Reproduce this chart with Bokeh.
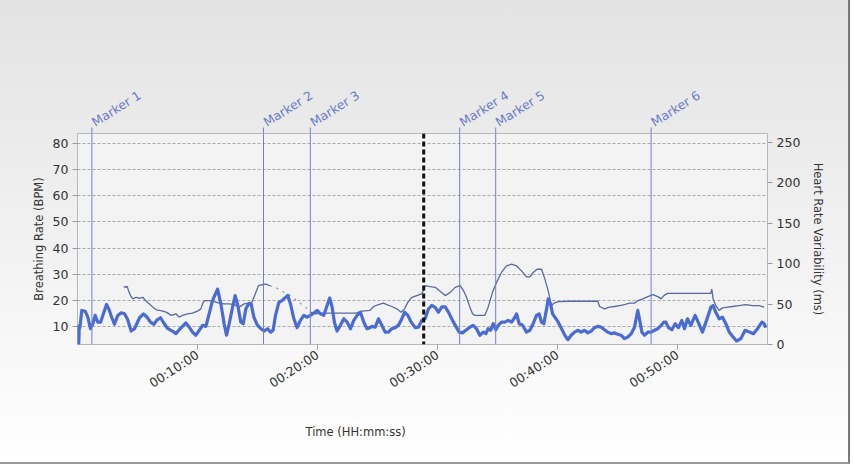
from bokeh.plotting import figure
from bokeh.layouts import column
from bokeh.models import (Range1d, LinearAxis, FixedTicker, Span, ColumnDataSource, Title)
from bokeh.core.properties import value
from bokeh.embed import file_html
from bokeh.resources import INLINE

# ---------------- data (time in minutes) ----------------
br_t = [0, 0.05, 0.1, 0.15, 0.2,
        0.36, 0.64, 0.86, 1.08, 1.28, 1.47, 1.69, 1.92, 2.11, 2.42,
        2.64, 2.86, 3.08, 3.36, 3.64, 3.92, 4.19, 4.47, 4.75, 5.17,
        5.5, 5.8, 6.08, 6.36, 6.64, 6.92, 7.19, 7.53, 7.94,
        8.2, 8.47, 8.75, 9.03, 9.31, 9.58, 9.86, 10.14, 10.42, 10.7,
        10.97, 11.25, 11.67, 11.95, 12.22, 12.42, 12.64, 12.92, 13.14, 13.36,
        13.61, 13.81, 14.03, 14.25, 14.47, 14.7, 15.0, 15.28, 15.56, 15.84,
        16.1,
        16.3, 16.5, 16.78, 17.05, 17.33, 17.52, 17.75, 18.03, 18.3, 18.58,
        18.86, 19.14, 19.41, 19.69, 19.97, 20.25, 20.52, 20.8, 21.02, 21.22,
        21.41, 21.63, 21.91, 22.19, 22.47, 22.75, 23.02, 23.3, 23.58, 23.86,
        24.13, 24.36,
        24.53, 24.81, 25.08, 25.36, 25.64, 25.92, 26.19, 26.47, 26.75, 26.97,
        27.25, 27.53, 27.81, 28.14, 28.42, 28.69, 28.97, 29.25, 29.53, 29.81,
        30.08, 30.36, 30.64, 30.92, 31.25, 31.53, 31.81, 32.08, 32.36,
        32.7, 32.97, 33.25, 33.53, 33.81, 34.03, 34.22, 34.42, 34.64, 34.86,
        35.06, 35.33, 35.61, 35.89, 36.17, 36.45, 36.59, 36.81, 37.09, 37.42,
        37.7, 37.97, 38.25, 38.47, 38.67, 38.86, 39.09, 39.22, 39.42, 39.59,
        39.78, 40.06, 40.34, 40.61,
        40.86, 41.14, 41.42, 41.69, 41.97, 42.25, 42.53, 42.8, 43.08, 43.36,
        43.64, 43.92, 44.19, 44.47, 44.75, 45.03, 45.3, 45.58, 45.86, 46.14,
        46.42, 46.58, 46.69, 46.83, 47.03, 47.25, 47.53, 47.8, 48.08, 48.36,
        48.64, 48.86,
        49.03, 49.25, 49.53, 49.81, 50.08, 50.36, 50.58, 50.83, 51.11, 51.47,
        51.75, 52.08, 52.42, 52.78, 52.97, 53.19, 53.47, 53.75, 54.03, 54.31,
        54.58, 54.92, 55.28, 55.64, 56.0, 56.33, 56.67, 57.03, 57.22, 57.36]

br_v = [3.1, 10.0, 3.1, 10.0, 9.5,
        16.1, 15.8, 13.5, 9.1, 11.0, 14.2, 11.6, 11.6, 14.2, 18.4,
        16.3, 13.3, 10.8, 14.2, 15.2, 14.8, 12.5, 8.2, 9.1, 13.3,
        14.8, 13.5, 11.6, 10.8, 12.5, 13.3, 11.3, 9.1, 8.1,
        7.2, 8.7, 10.0, 11.3, 9.7, 7.8, 6.6, 8.5, 10.4, 10.0,
        14.8, 19.9, 24.3, 18.6, 11.0, 6.6, 11.0, 17.3, 21.8, 18.0,
        11.6, 11.0, 16.7, 18.6, 18.6, 13.5, 10.4, 9.1, 8.2, 9.1,
        7.8,
        8.5, 14.2, 19.2, 19.9, 21.1, 21.8, 18.6, 12.9, 9.5, 12.3,
        14.2, 13.5, 14.2, 15.1, 16.1, 14.8, 14.2, 18.0, 20.9, 17.3,
        11.6, 8.2, 10.4, 12.9, 11.6, 9.1, 12.3, 14.2, 15.4, 11.6,
        9.1, 9.5,
        10.0, 9.7, 12.9, 10.4, 7.8, 7.8, 9.1, 9.5, 10.4, 12.3,
        15.4, 14.2, 11.6, 9.5, 9.7, 12.3, 12.9, 16.7, 18.0, 17.3,
        15.4, 17.5, 17.5, 15.4, 12.3, 10.0, 7.8, 7.5, 8.5,
        9.7, 10.4, 9.1, 6.6, 7.8, 7.2, 9.1, 8.5, 11.0, 8.7,
        10.4, 11.6, 11.6, 12.3, 11.6, 13.5, 14.8, 11.0, 10.4, 7.8,
        8.5, 11.0, 14.2, 14.8, 11.6, 11.0, 16.7, 20.5, 18.6, 14.8,
        13.5, 11.6, 9.1, 6.6,
        4.9, 6.6, 7.8, 8.5, 7.8, 8.5, 7.5, 8.2, 9.5, 10.0,
        9.7, 8.7, 7.8, 7.2, 7.5, 7.0, 6.6, 5.3, 5.9, 7.2,
        9.7, 13.5, 16.1, 12.9, 7.8, 6.6, 7.8, 7.8, 8.5, 9.1,
        10.4, 11.6,
        11.6, 9.5, 8.7, 11.0, 9.5, 12.3, 9.1, 12.9, 10.4, 14.2,
        11.3, 7.8, 12.3, 17.3, 18.0, 15.4, 12.9, 13.5, 11.0, 7.8,
        6.2, 4.4, 5.3, 8.5, 7.8, 7.2, 9.1, 11.6, 11.0, 9.5]

# Heart rate variability (ms) - recorded part before the gap
hrv1_t = [3.86, 3.97, 4.14, 4.25, 4.42, 4.61, 4.89, 5.17, 5.44, 5.72,
          6.0, 6.28, 6.56, 6.83, 7.11, 7.39, 7.81,
          8.2, 8.47, 8.75, 9.17, 9.58, 10.0, 10.28, 10.47, 10.64, 10.97,
          11.39, 11.81, 12.22, 12.64, 13.06, 13.47, 13.89, 14.25, 14.53, 14.81,
          15.08, 15.36, 15.7, 16.03]
hrv1_v = [71.9, 70.7, 71.9, 66.6, 60.5, 56.4, 58.4, 57.2, 58.4, 53.5,
          50.2, 46.2, 42.9, 42.1, 41.3, 40.0, 36.0,
          38.0, 33.9, 36.0, 38.0, 38.8, 41.3, 44.1, 52.3, 54.3, 54.3,
          53.1, 51.1, 50.2, 50.2, 49.4, 46.2, 50.2, 51.1, 52.3, 62.5,
          72.7, 73.9, 74.8, 72.7]

# gap (no beats) - drawn dotted
hrv_gap_t = [16.03, 16.5, 17.05, 17.75, 18.44, 19.0, 19.41]
hrv_gap_v = [72.7, 70.7, 65.8, 60.5, 52.3, 46.2, 40.0]

hrv2_t = [19.41, 19.83, 20.25, 20.94, 21.63, 22.47, 23.16, 23.72, 24.36,
          24.67, 25.08, 25.5, 25.78, 26.19, 26.61, 26.97, 27.25, 27.53, 27.86,
          28.28, 28.69, 28.97, 29.39, 29.81, 30.22, 30.64, 31.06, 31.47, 31.89,
          32.17,
          32.42, 32.7, 32.92, 33.11, 33.53, 33.94, 34.22, 34.58, 34.92, 35.33,
          35.75, 36.17, 36.59, 37.0, 37.42, 37.7, 37.97, 38.31, 38.67, 38.95,
          39.22, 39.5, 39.7, 40.06,
          41.0, 43.36, 43.5, 43.92, 44.33, 44.75, 45.17, 45.58, 46.0, 46.42,
          46.69, 47.11, 47.53, 47.94, 48.36, 48.64, 48.86,
          49.17, 52.78, 52.86, 52.97, 53.19, 53.47, 53.75, 54.17, 54.58, 55.14,
          55.69, 56.25, 56.81, 57.22]
hrv2_v = [40.0, 38.0, 38.8, 38.8, 38.8, 38.8, 38.8, 41.3, 42.1,
          47.0, 49.4, 51.1, 49.4, 47.0, 44.1, 40.0, 44.1, 52.3, 58.4,
          60.5, 62.5, 72.7, 71.5, 70.7, 65.8, 60.5, 64.5, 70.7, 72.7,
          66.6,
          58.4, 46.2, 38.0, 36.0, 36.0, 36.0, 46.2, 64.5, 76.8, 89.1,
          97.2, 99.3, 97.2, 91.1, 83.7, 83.7, 89.1, 93.1, 93.1, 80.9,
          66.6, 48.2, 51.1, 53.1,
          53.5, 53.5, 47.0, 44.1, 46.2, 47.0, 48.2, 49.4, 51.1, 51.1,
          54.3, 56.4, 59.2, 61.7, 59.2, 56.4, 60.5,
          63.3, 63.3, 68.6, 56.4, 48.2, 42.1, 45.3, 46.2, 47.0, 48.2,
          49.4, 48.2, 48.2, 46.2]

marker_names = ["Marker 1", "Marker 2", "Marker 3", "Marker 4", "Marker 5", "Marker 6"]
marker_t = [1.2, 15.5, 19.4, 31.85, 34.85, 47.8]
cursor_t = 28.85

x_ticks = [10, 20, 30, 40, 50]
x_tick_labels = ["00:10:00", "00:20:00", "00:30:00", "00:40:00", "00:50:00"]
left_ticks = [10, 20, 30, 40, 50, 60, 70, 80]
right_ticks = [0, 50, 100, 150, 200, 250]

# ---------------- styling ----------------
FONT = "DejaVu Sans"
BR_COLOR = "#4a6bd2"
HRV_COLOR = "#5a6a9e"
MK_COLOR = "#6f80cc"
MK_TEXT = "#6a7cc6"
TXT = "#333333"

W = 848
TOP_H = 133          # band above the plot frame holding the marker labels
MAIN_H = 462 - TOP_H
x_range = Range1d(0, 57.5)
y_lo, y_hi = 3.05, 83.9

# ---------- marker label band (shares the x range) ----------
top = figure(width=W, height=TOP_H, x_range=x_range, y_range=Range1d(0, TOP_H),
             output_backend="svg", toolbar_location=None,
             min_border_left=77, min_border_right=81, min_border_top=0, min_border_bottom=0)
top.axis.visible = False
top.grid.grid_line_color = None
top.outline_line_color = None
top.background_fill_color = None
top.border_fill_color = None

msrc = ColumnDataSource(dict(t=marker_t, name=marker_names))
top.segment(x0="t", y0=0, x1="t", y1=6, source=msrc, line_color=MK_COLOR, line_width=1)
top.text(x="t", y=4, text="name", source=msrc, angle=0.56, x_offset=5,
         text_align="left", text_baseline="bottom", text_font=value(FONT),
         text_font_size="12.5px", text_color=MK_TEXT)

# ---------- main chart ----------
p = figure(width=W, height=MAIN_H, x_range=x_range, y_range=Range1d(y_lo, y_hi),
           output_backend="svg", toolbar_location=None,
           min_border_left=77, min_border_right=81, min_border_top=0, min_border_bottom=116)
p.extra_y_ranges = {"hrv": Range1d(0, 261)}

p.border_fill_color = None
p.background_fill_color = "#f3f3f3"
p.outline_line_color = "#b8b8b8"

p.xgrid.grid_line_color = None
p.ygrid.ticker = FixedTicker(ticks=left_ticks)
p.ygrid.grid_line_color = "#a8a8a8"
p.ygrid.grid_line_dash = "3 2"
p.ygrid.grid_line_width = 1

ya = p.yaxis[0]
ya.ticker = FixedTicker(ticks=left_ticks)
ya.axis_label = "Breathing Rate (BPM)"
ya.axis_label_standoff = 4

ra = LinearAxis(y_range_name="hrv", ticker=FixedTicker(ticks=right_ticks),
                axis_label="Heart Rate Variability (ms)")
ra.axis_label_standoff = 8
p.add_layout(ra, "right")

xa = p.xaxis[0]
xa.ticker = FixedTicker(ticks=x_ticks)
xa.major_label_overrides = {t: lab for t, lab in zip(x_ticks, x_tick_labels)}
xa.major_label_orientation = 0.58

for ax in (ya, ra, xa):
    ax.axis_label_text_font = FONT
    ax.axis_label_text_font_size = "11.5px"
    ax.axis_label_text_font_style = "normal"
    ax.axis_label_text_color = TXT
    ax.major_label_text_font = FONT
    ax.major_label_text_font_size = "12.5px"
    ax.major_label_text_color = TXT
    ax.major_label_standoff = 4
    ax.axis_line_color = None
    ax.major_tick_line_color = "#999999"
    ax.major_tick_out = 5
    ax.major_tick_in = 0
    ax.minor_tick_line_color = None

xt = Title(text="Time (HH:mm:ss)", align="left", offset=228, standoff=47,
           text_font=FONT, text_font_size="11.5px", text_font_style="normal",
           text_color=TXT)
p.add_layout(xt, "below")

# series
p.line(hrv1_t, hrv1_v, y_range_name="hrv", line_color=HRV_COLOR, line_width=1.3)
p.line(hrv_gap_t, hrv_gap_v, y_range_name="hrv", line_color=HRV_COLOR, line_width=1.3,
       line_dash="2 5", line_alpha=0.7)
p.line(hrv2_t, hrv2_v, y_range_name="hrv", line_color=HRV_COLOR, line_width=1.3)
p.line(br_t, br_v, line_color=BR_COLOR, line_width=3.2, line_join="round")

# marker lines through the plot frame
p.segment(x0="t", y0=y_lo, x1="t", y1=y_hi, source=msrc, line_color=MK_COLOR, line_width=1)

# cursor
p.add_layout(Span(location=cursor_t, dimension="height", line_color="#111111",
                  line_width=3, line_dash="5 3"))

layout = column(top, p, spacing=0)
layout.styles = {"background": "linear-gradient(#e3e3e3 0%, #eeeeee 40%, #ffffff 100%)",
                 "border-right": "2px solid #7a7a7a", "border-bottom": "2px solid #9a9a9a"}

open("out.html", "w").write(file_html(layout, INLINE))
